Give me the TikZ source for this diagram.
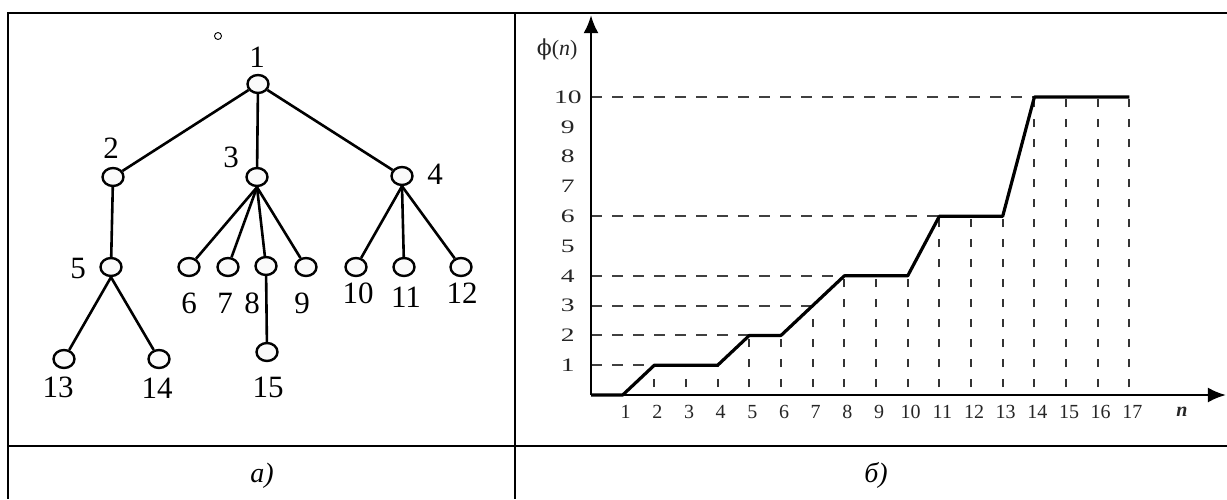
\documentclass[tikz,border=0pt]{standalone}
\usepackage{fontspec}
\setmainfont{Liberation Serif}
\newfontfamily\phifont{DejaVu Serif}
\usetikzlibrary{shapes.geometric,arrows.meta}

\begin{document}
\begin{tikzpicture}[x=1pt,y=-1pt,
  vertex/.style={ellipse,draw,line width=2.4pt,fill=gray!4,minimum width=21pt,minimum height=18pt,inner sep=0pt},
  link/.style={line width=2.6pt},
  vlabel/.style={font=\fontsize{31}{31}\selectfont,inner sep=0pt,text depth=0pt},
  tableline/.style={line width=2.2pt},
  capt/.style={font=\fontsize{28}{28}\selectfont\itshape,inner sep=0pt,anchor=base},
  axisline/.style={line width=2.6pt,-{Latex[length=18pt,width=15pt]}},
  plotline/.style={line width=3.2pt,line join=round},
  hguide/.style={dash pattern=on 11pt off 10pt,line width=2pt,black!75},
  vguide/.style={dash pattern=on 8pt off 12pt,dash phase=12pt,line width=2pt,black!80},
  ticklbl/.style={font=\fontsize{20}{20}\selectfont,inner sep=0pt,text depth=0pt,black!85},
]
\useasboundingbox (0,0) rectangle (1227,499);
\fill[white] (0,0) rectangle (1227,499);

% table rules
\draw[tableline] (8,13) -- (1227,13);
\draw[tableline] (8,446) -- (1227,446);
\draw[tableline] (8,12) -- (8,499);
\draw[tableline] (515,12) -- (515,499);

% ---------- tree ----------
\node[circle,draw,line width=0.9pt,minimum size=7pt,inner sep=0pt] (dot) at (218,36) {};

\node[vertex] (n1)  at (258,84)  {};
\node[vertex] (n2)  at (113,177) {};
\node[vertex] (n3)  at (257,177) {};
\node[vertex] (n4)  at (402,176) {};
\node[vertex] (n5)  at (111,267) {};
\node[vertex] (n6)  at (189,267) {};
\node[vertex] (n7)  at (228,267) {};
\node[vertex] (n8)  at (266,266) {};
\node[vertex] (n9)  at (306,267) {};
\node[vertex] (n10) at (356,267) {};
\node[vertex] (n11) at (404,267) {};
\node[vertex] (n12) at (461,267) {};
\node[vertex] (n13) at (64,359)  {};
\node[vertex] (n14) at (159,359) {};
\node[vertex] (n15) at (267,352) {};

\draw[link] (n1) -- (n2);
\draw[link] (n1) -- (n3);
\draw[link] (n1) -- (n4);
\draw[link] (n2) -- (n5);
\draw[link] (n3.south) -- (n6);
\draw[link] (n3.south) -- (n7);
\draw[link] (n3.south) -- (n8);
\draw[link] (n3.south) -- (n9);
\draw[link] (n4.south) -- (n10);
\draw[link] (n4.south) -- (n11);
\draw[link] (n4.south) -- (n12);
\draw[link] (n5.south) -- (n13);
\draw[link] (n5.south) -- (n14);
\draw[link] (n8) -- (n15);

\node[vlabel] (l1)  at (257,57)  {1};
\node[vlabel] (l2)  at (111,148) {2};
\node[vlabel] (l3)  at (231,157) {3};
\node[vlabel] (l4)  at (435,174) {4};
\node[vlabel] (l5)  at (78,268)  {5};
\node[vlabel] (l6)  at (189,303) {6};
\node[vlabel] (l7)  at (225,303) {7};
\node[vlabel] (l8)  at (252,303) {8};
\node[vlabel] (l9)  at (302,303) {9};
\node[vlabel] (l10) at (358,293) {10};
\node[vlabel] (l11) at (406,297) {11};
\node[vlabel] (l12) at (462,293) {12};
\node[vlabel] (l13) at (58,387)  {13};
\node[vlabel] (l14) at (157,388) {14};
\node[vlabel] (l15) at (268,387) {15};

\node[capt] (capa) at (262,482) {а)};

% ---------- step graph ----------
\begin{scope}[xshift=591pt,yshift=-395pt,x=31.67pt,y=29.8pt]
  \coordinate (O) at (0,0);
  \coordinate (xend) at (20.05,0);
  \coordinate (yend) at (0,12.75);

  % horizontal guides
  \draw[hguide] (0,1) -- (2,1);
  \draw[hguide] (0,2) -- (5,2);
  \draw[hguide] (0,3) -- (7,3);
  \draw[hguide] (0,4) -- (8,4);
  \draw[hguide] (0,6) -- (11,6);
  \draw[hguide] (0,10) -- (14,10);

  % vertical guides
  \foreach \n/\h in {2/1,3/1,4/1,5/2,6/2,7/3,8/4,9/4,10/4,11/6,12/6,13/6,14/10,15/10,16/10,17/10}
    \draw[vguide] (\n,0) -- (\n,\h);

  % the function
  \draw[plotline] (0,0) -- (1,0) -- (2,1) -- (4,1) -- (5,2) -- (6,2) -- (8,4)
    -- (10,4) -- (11,6) -- (13,6) -- (14,10) -- (17,10);

  % axes
  \draw[axisline] (O) -- (xend);
  \draw[axisline] (O) -- (yend);

  % value labels
  \foreach \k in {1,...,10}
    \node[ticklbl,font=\fontsize{19}{19}\selectfont] (y\k) at (-0.73,\k) {\scalebox{1.45}[1]{\k}};

  \node[ticklbl,font=\fontsize{22}{22}\selectfont] (phi) at (-1.07,11.68) {{\phifont ϕ}(\textit{n})};
\end{scope}

% argument labels, trimmed at the bottom edge
\begin{scope}
  \clip (590,398) rectangle (1227,418);
  \foreach \n in {1,...,17}
    \node[ticklbl] (x\n) at ({594+31.67*\n},411.5) {\n};
  \node[ticklbl] (nlbl) at (1182,411.5) {\textbf{\textit{n}}};
\end{scope}

\node[capt] (capb) at (876,482) {б)};
\end{tikzpicture}
\end{document}
